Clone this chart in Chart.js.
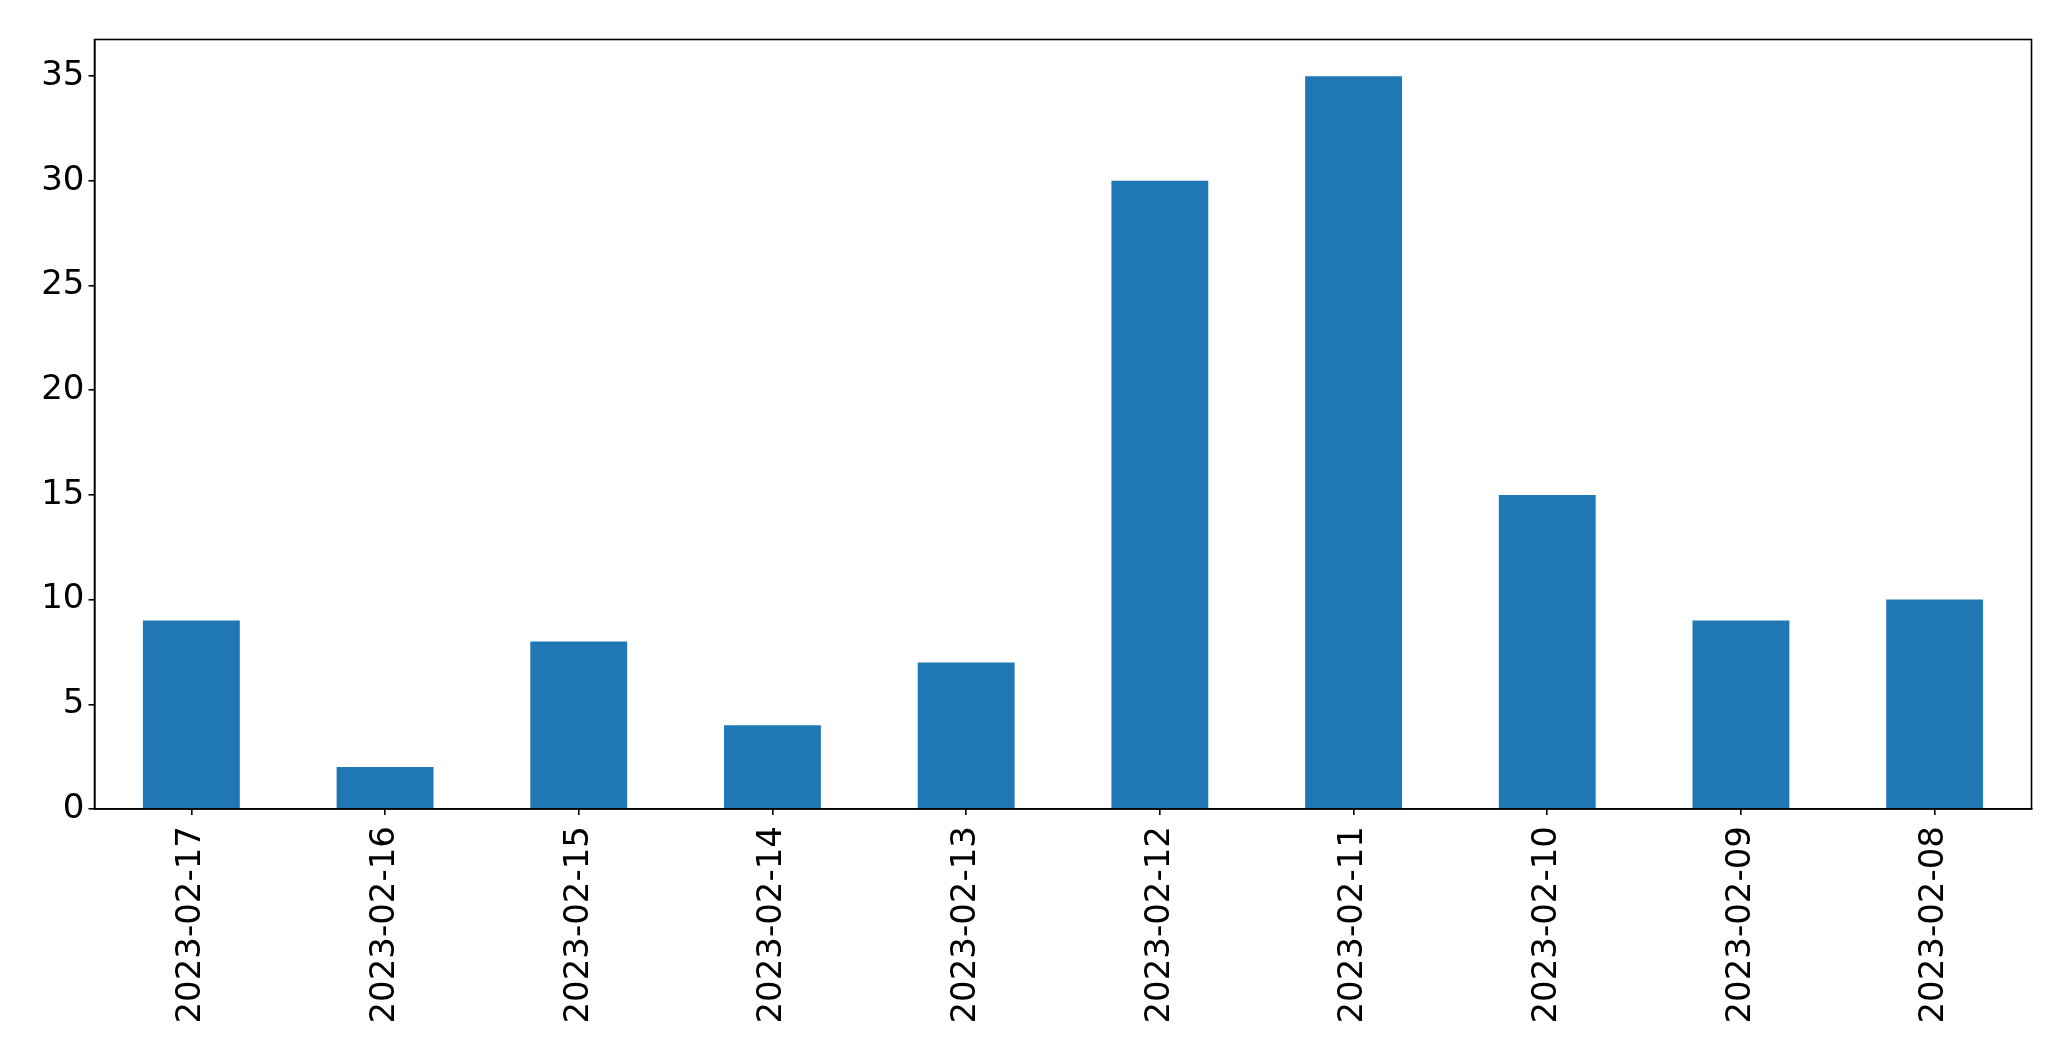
<!DOCTYPE html>
<html>
<head>
<meta charset="utf-8">
<script src="https://cdn.jsdelivr.net/npm/chart.js@4/dist/chart.umd.min.js"></script>
<style>
  html, body { margin: 0; padding: 0; background: #ffffff; }
  #wrap { width: 2071px; height: 1061px; }
</style>
</head>
<body>
<div id="wrap"><canvas id="barChart" width="2071" height="1061"></canvas></div>
<script>
// Chart data
const dates = [
  '2023-02-17', '2023-02-16', '2023-02-15', '2023-02-14', '2023-02-13',
  '2023-02-12', '2023-02-11', '2023-02-10', '2023-02-09', '2023-02-08'
];
const counts = [9, 2, 8, 4, 7, 30, 35, 15, 9, 10];
const yTicks = [0, 5, 10, 15, 20, 25, 30, 35];

const barColor = '#1f77b4';
const tickFont = { family: 'DejaVu Sans', size: 34 };

// Draw the closed box around the plot area, like matplotlib spines
const frameBox = {
  id: 'frameBox',
  afterDraw(chart) {
    const { ctx, chartArea } = chart;
    ctx.save();
    ctx.strokeStyle = '#000000';
    ctx.lineWidth = 1.6;
    ctx.strokeRect(chartArea.left, chartArea.top,
      chartArea.right - chartArea.left, chartArea.bottom - chartArea.top);
    ctx.restore();
  }
};

const ctx = document.getElementById('barChart').getContext('2d');

new Chart(ctx, {
  type: 'bar',
  data: {
    labels: dates,
    datasets: [{
      data: counts,
      backgroundColor: barColor,
      borderWidth: 0,
      barPercentage: 0.5,
      categoryPercentage: 1.0
    }]
  },
  options: {
    responsive: false,
    animation: false,
    layout: {
      padding: { left: 0, top: 39.5, right: 39.5, bottom: 0 }
    },
    plugins: {
      legend: { display: false },
      tooltip: { enabled: false }
    },
    scales: {
      x: {
        offset: true,
        grid: {
          offset: false,
          drawOnChartArea: false,
          drawTicks: true,
          tickLength: 6,
          color: '#000000',
          lineWidth: 1.6
        },
        border: { display: true, color: '#000000', width: 1.6 },
        ticks: {
          color: '#000000',
          font: tickFont,
          maxRotation: 90,
          minRotation: 90,
          padding: 11,
          autoSkip: false
        },
        afterFit: (scale) => { scale.height = 252; }
      },
      y: {
        min: 0,
        max: 36.75,
        afterBuildTicks: (scale) => {
          scale.ticks = yTicks.map(v => ({ value: v }));
        },
        grid: {
          drawOnChartArea: false,
          drawTicks: true,
          tickLength: 6,
          color: '#000000',
          lineWidth: 1.6
        },
        border: { display: true, color: '#000000', width: 1.6 },
        ticks: {
          color: '#000000',
          font: tickFont,
          padding: 4
        },
        afterFit: (scale) => { scale.width = 94.5; }
      }
    }
  },
  plugins: [frameBox]
});
</script>
</body>
</html>
